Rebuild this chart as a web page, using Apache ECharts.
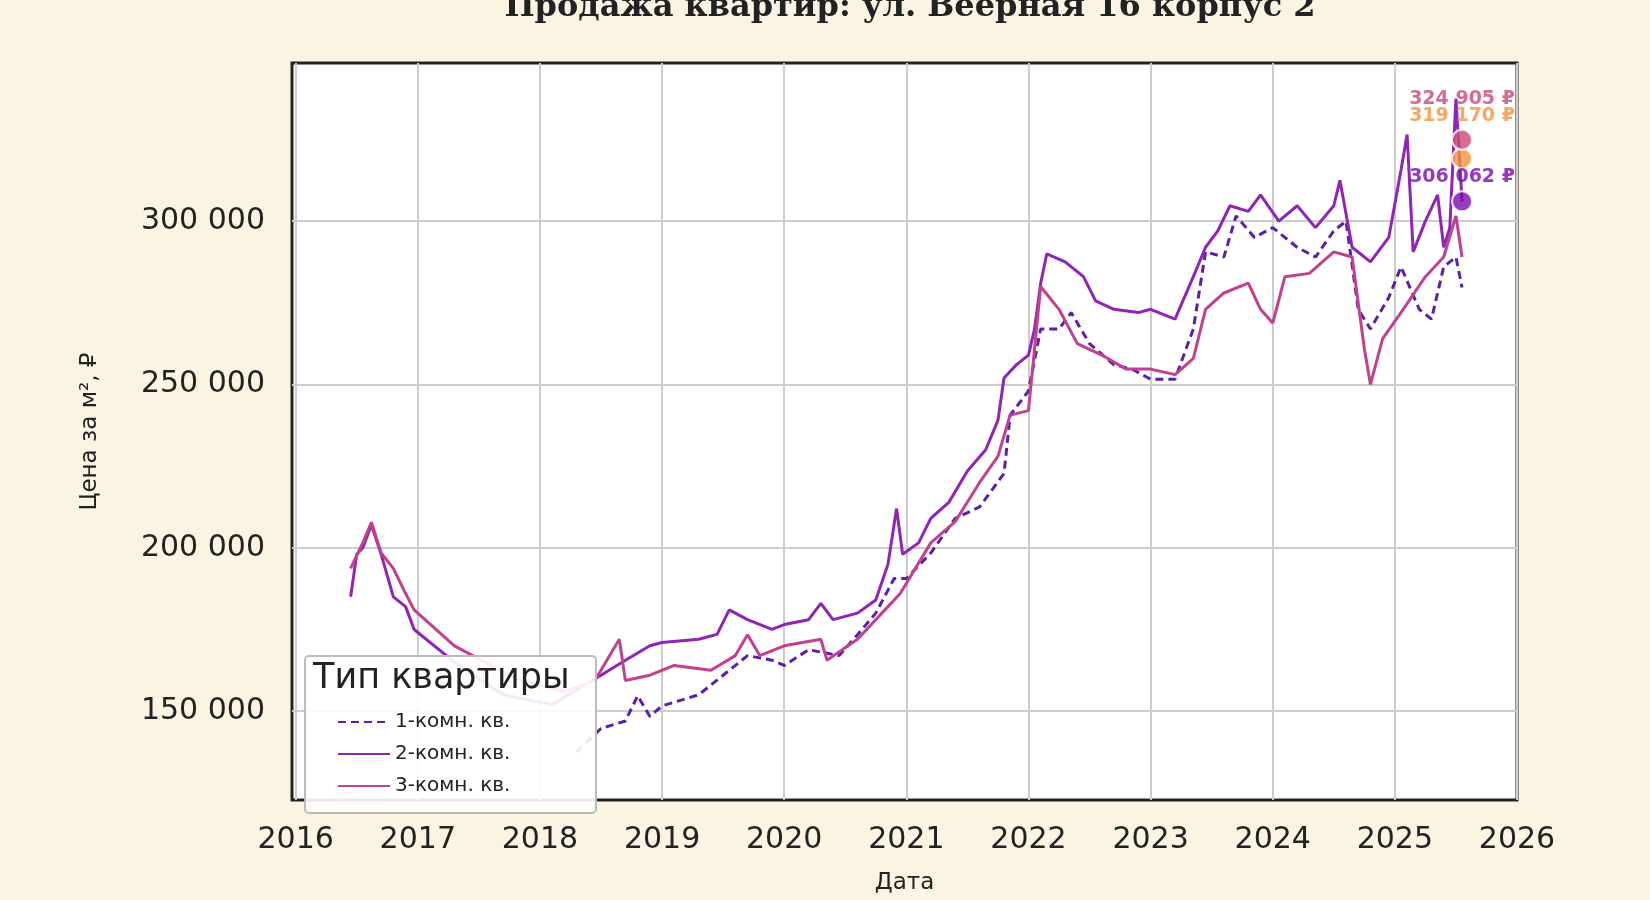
<!DOCTYPE html>
<html><head><meta charset="utf-8">
<script src="https://cdn.jsdelivr.net/npm/echarts@6/dist/echarts.min.js"></script>
<style>html,body{margin:0;background:#fcf4e2}#c{width:1650px;height:900px}</style>
</head><body><div id="c"></div>
<script>
// годы (десятичные) и цены за м²
var t1 = [2018.3,2018.5,2018.7,2018.8,2018.9,2019.0,2019.3,2019.5,2019.7,2019.9,2020.0,2020.2,2020.45,2020.6,2020.75,2020.9,2021.0,2021.2,2021.4,2021.6,2021.8,2021.85,2022.0,2022.1,2022.25,2022.35,2022.5,2022.7,2022.85,2023.0,2023.2,2023.35,2023.45,2023.6,2023.7,2023.85,2024.0,2024.2,2024.35,2024.5,2024.6,2024.7,2024.8,2024.95,2025.05,2025.2,2025.3,2025.4,2025.5,2025.55];
var v1 = [137500,144700,147000,154700,148400,151600,155000,161000,167000,165600,164000,168800,167000,173400,180000,190600,190600,198400,209000,212500,222800,240600,248000,267000,267000,272000,262500,256000,254700,251600,251600,267000,290600,289000,301600,295000,298000,292000,289000,297000,300000,273000,267000,276600,286000,273000,270000,286000,289000,279700];

var t2 = [2016.45,2016.5,2016.55,2016.62,2016.7,2016.8,2016.9,2016.97,2017.3,2017.7,2018.1,2018.5,2018.7,2018.9,2019.0,2019.3,2019.45,2019.55,2019.7,2019.9,2020.0,2020.2,2020.3,2020.4,2020.6,2020.75,2020.85,2020.92,2020.97,2021.1,2021.2,2021.35,2021.5,2021.65,2021.75,2021.8,2021.9,2022.0,2022.05,2022.1,2022.15,2022.3,2022.45,2022.55,2022.7,2022.9,2023.0,2023.2,2023.35,2023.45,2023.55,2023.65,2023.8,2023.9,2024.05,2024.2,2024.35,2024.5,2024.55,2024.65,2024.8,2024.95,2025.05,2025.1,2025.15,2025.25,2025.35,2025.4,2025.45,2025.5,2025.55];
var v2 = [185000,198000,200000,207000,198000,185000,182000,175000,165000,155000,152000,161000,165600,170000,171000,172000,173500,181000,178000,175000,176500,178000,183000,178000,180000,184000,195000,212000,198000,201500,209000,214000,223500,230000,239000,252000,256000,259000,267000,281000,290000,287500,283000,275600,273000,272000,273000,270000,283000,292000,297000,304700,303000,308000,300000,304700,298000,304700,312500,292000,287500,295000,315600,326500,290600,300000,308000,292000,298000,337500,306062];

var t3 = [2016.45,2016.55,2016.62,2016.7,2016.8,2016.9,2016.97,2017.3,2017.8,2018.2,2018.45,2018.65,2018.7,2018.9,2019.1,2019.4,2019.6,2019.7,2019.8,2020.0,2020.3,2020.35,2020.6,2020.8,2020.95,2021.2,2021.4,2021.6,2021.75,2021.85,2022.0,2022.1,2022.25,2022.4,2022.6,2022.8,2023.0,2023.2,2023.35,2023.45,2023.6,2023.8,2023.9,2024.0,2024.1,2024.3,2024.5,2024.65,2024.75,2024.8,2024.9,2025.05,2025.25,2025.4,2025.5,2025.55];
var v3 = [193700,201600,207800,198400,193700,186000,181000,170000,160000,156000,159400,172000,159400,161000,164000,162500,167000,173400,167000,170000,172000,165600,172000,180000,186000,201500,208000,220000,228000,240600,242000,280000,273000,262500,259000,254700,254700,253000,258000,273000,278000,281000,273000,268800,283000,284000,290600,289000,261000,250000,264000,272000,283000,289000,301600,289000];

var lastT = 2025.55;
var lastV = [306062, 319170, 324905];
var lastC = ['#7a0ab0', '#f0923e', '#cc4778'];
var yTicks = [150000, 200000, 250000, 300000];
var xTicks = [2016,2017,2018,2019,2020,2021,2022,2023,2024,2025,2026];
var names = ['1-комн. кв.', '2-комн. кв.', '3-комн. кв.'];

function zip(t, v) { return t.map(function (x, i) { return [x, v[i]]; }); }
function fmt(n) { return String(n).replace(/\B(?=(\d{3})+(?!\d))/g, ' '); }

var chart = echarts.init(document.getElementById('c'));
var font = 'DejaVu Sans';
var lineS = function (name, data, color, dash) {
    return { name: name, type: 'line', data: data, showSymbol: false, symbol: 'none',
        lineStyle: { color: color, width: 3, type: dash ? [8, 5] : 'solid' },
        itemStyle: { color: color }, z: 3 };
};
var labelDist = [4, 22, 20];
chart.setOption({
    backgroundColor: '#fcf4e2',
    title: { text: 'Продажа квартир: ул. Веерная 16 корпус 2', left: 905, textAlign: 'center', top: -13,
        textStyle: { fontFamily: 'DejaVu Serif', fontWeight: 'bold', fontSize: 32, color: '#222' } },
    grid: { left: 292, top: 63, right: 133, bottom: 77, show: true, backgroundColor: '#fff',
        borderColor: '#222', borderWidth: 3 },
    xAxis: { type: 'value', min: 2015.97, max: 2026, name: 'Дата', nameLocation: 'middle', nameGap: 72,
        nameTextStyle: { fontFamily: font, fontSize: 23, color: '#222' },
        axisLine: { show: false }, axisTick: { show: false, customValues: xTicks },
        axisLabel: { customValues: xTicks, fontFamily: font, fontSize: 30, color: '#222', margin: 25,
            formatter: function (v) { return String(Math.round(v)); } },
        splitLine: { show: true, lineStyle: { color: '#cccccc', width: 2 } } },
    yAxis: { type: 'value', min: 122800, max: 348400, name: 'Цена за м², ₽', nameLocation: 'middle', nameGap: 190,
        nameTextStyle: { fontFamily: font, fontSize: 23, color: '#222' },
        axisLine: { show: false }, axisTick: { show: false, customValues: yTicks },
        axisLabel: { customValues: yTicks, fontFamily: font, fontSize: 30, color: '#222', margin: 27, formatter: fmt },
        splitLine: { show: true, lineStyle: { color: '#cccccc', width: 2 } } },
    legend: { data: names, orient: 'vertical', left: 332, top: 707, itemGap: 12, itemWidth: 52, itemHeight: 20, z: 60,
        itemStyle: { opacity: 0 },
        textStyle: { fontFamily: font, fontSize: 20, color: '#222' } },
    graphic: [
        { type: 'rect', left: 304, top: 655, shape: { width: 291, height: 157, r: 4 }, z: 50,
            style: { fill: 'rgba(255,255,255,0.9)', stroke: '#bbb', lineWidth: 2 } },
        { type: 'text', left: 313, top: 661, z: 51,
            style: { text: 'Тип квартиры', font: '35px "DejaVu Sans"', fill: '#222' } }
    ],
    series: [
        lineS(names[0], zip(t1, v1), '#5b1fa8', true),
        lineS(names[1], zip(t2, v2), '#9024b5', false),
        lineS(names[2], zip(t3, v3), '#c2418e', false),
        { type: 'scatter', symbolSize: 20, z: 5,
            data: lastV.map(function (v, i) { return { value: [lastT, v],
                itemStyle: { color: lastC[i], borderColor: '#fff', borderWidth: 2 },
                label: { show: true, position: 'top', distance: labelDist[i], color: lastC[i], formatter: fmt(v) + ' ₽' } }; }),
            label: { fontFamily: font, fontWeight: 'bold', fontSize: 19 } }
    ]
});
</script></body></html>
